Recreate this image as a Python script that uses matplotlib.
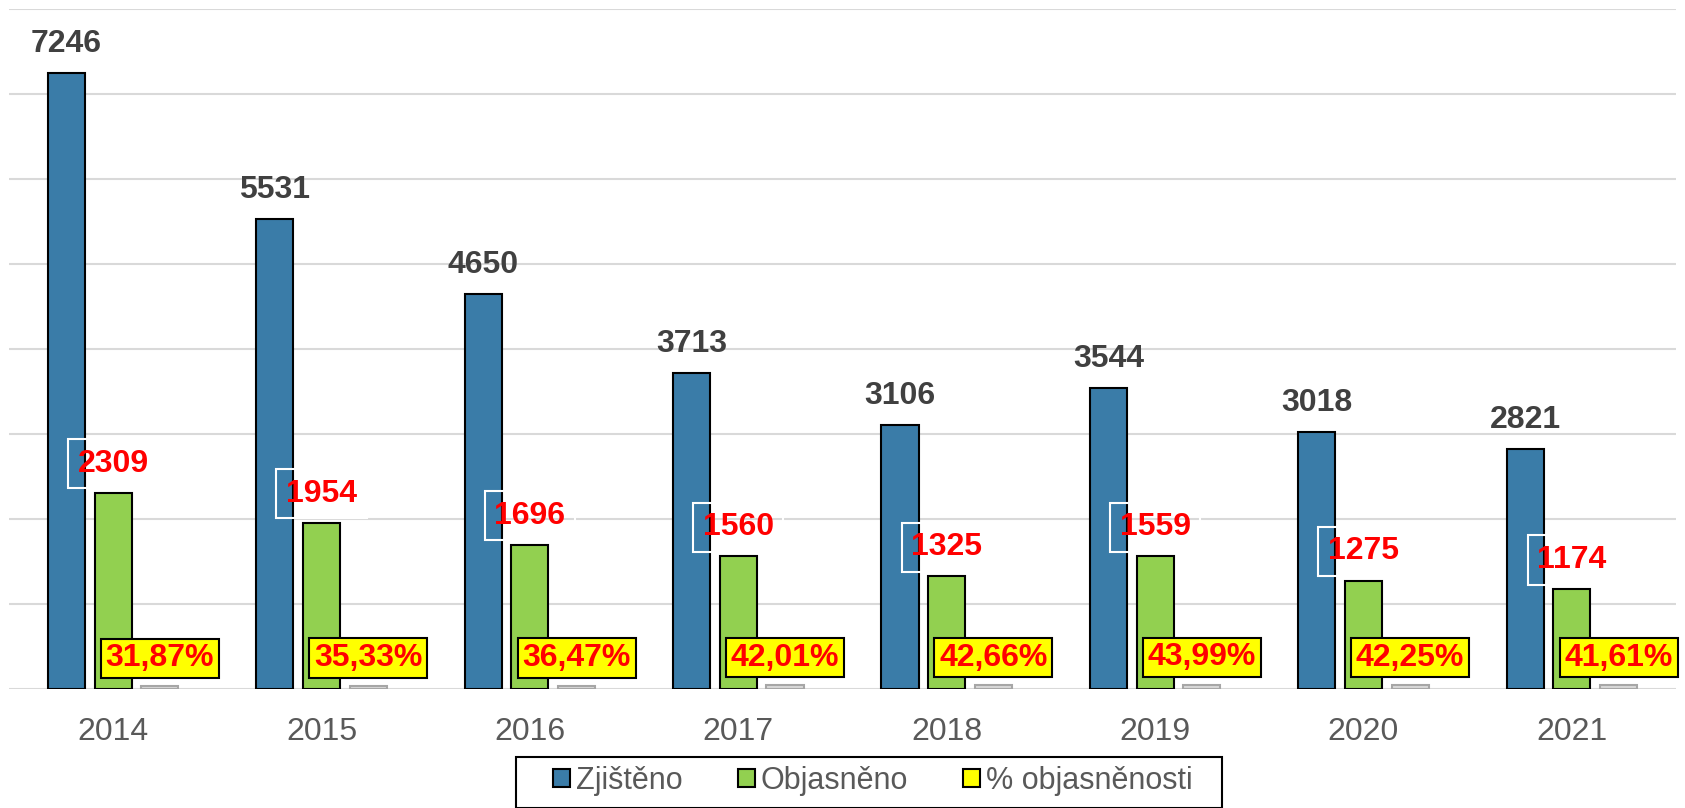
import matplotlib
matplotlib.use('Agg')
import matplotlib.pyplot as plt
import matplotlib.patches as patches
import numpy as np

# data
years = ['2014', '2015', '2016', '2017', '2018', '2019', '2020', '2021']
zjisteno = [7246, 5531, 4650, 3713, 3106, 3544, 3018, 2821]
objasneno = [2309, 1954, 1696, 1560, 1325, 1559, 1275, 1174]
procento = [31.87, 35.33, 36.47, 42.01, 42.66, 43.99, 42.25, 41.61]

plt.rcParams['font.family'] = ['Liberation Sans', 'DejaVu Sans']

W, H = 1685, 808
fig = plt.figure(figsize=(W / 100, H / 100), dpi=100)
ax = fig.add_axes([0.0053, 0.1473, 0.9894, 0.8417])

x = np.arange(len(years))
w = 0.178
off = 0.224

b1 = ax.bar(x - off, zjisteno, w, color='#3a7ca8', edgecolor='black', linewidth=1.5,
            label='Zjištěno', zorder=3)
b2 = ax.bar(x, objasneno, w, color='#92d050', edgecolor='black', linewidth=1.5,
            label='Objasněno', zorder=3)
b3 = ax.bar(x + off, procento, w, color='#d9d9d9', edgecolor='#a6a6a6', linewidth=1.5,
            label='% objasněnosti', zorder=3)

# labels above the blue bars
for xi, v in zip(x, zjisteno):
    ax.annotate(str(v), (xi - off, v), xytext=(0, 21), textcoords='offset points',
                ha='center', va='center', fontsize=23, fontweight='bold', color='#404040')

# red labels above the green bars, white outlined box
for xi, v in zip(x, objasneno):
    ax.annotate(str(v), (xi, v), xytext=(0, 21), textcoords='offset points',
                ha='center', va='center', fontsize=23, fontweight='bold', color='red',
                bbox=dict(boxstyle='square,pad=0.3', facecolor='none', edgecolor='white', linewidth=1.5),
                zorder=5)

# percentage labels in yellow boxes
for xi, p in zip(x, procento):
    txt = f'{p:.2f}'.replace('.', ',') + '%'
    ax.annotate(txt, (xi + off, p), xytext=(0, 20), textcoords='offset points',
                ha='center', va='center', fontsize=23, fontweight='bold', color='red',
                bbox=dict(boxstyle='square,pad=0.15', facecolor='#ffff00', edgecolor='black', linewidth=1.5),
                zorder=6)

ax.set_xlim(-0.5, 7.5)
ax.set_ylim(0, 8000)
ax.set_yticks(np.arange(0, 8001, 1000))
ax.set_yticklabels([])
ax.tick_params(axis='y', length=0)
ax.grid(axis='y', color='#d9d9d9', linewidth=1.5, zorder=0)
ax.set_axisbelow(True)
ax.set_xticks(x)
ax.set_xticklabels(years, fontsize=23, color='#595959')
ax.tick_params(axis='x', length=0, pad=20)
for s in ax.spines.values():
    s.set_visible(False)

# legend box drawn separately so the padding matches
frame = patches.Rectangle((516 / W, 1 - 808 / H), 706 / W, 51 / H, transform=fig.transFigure,
                          facecolor='white', edgecolor='black', linewidth=1.5)
fig.patches.append(frame)
leg = fig.legend(handles=[b1, b2, b3], loc='center', bbox_to_anchor=(873 / W, 1 - 781 / H),
                 ncol=3, frameon=False, prop={'size': 22},
                 handlelength=0.55, handleheight=0.55, handletextpad=0.2, columnspacing=1.8,
                 borderpad=0.0)
for t in leg.get_texts():
    t.set_color('#595959')
leg.legend_handles[2].set_facecolor('#ffff00')
leg.legend_handles[2].set_edgecolor('black')

fig.savefig('out.png', dpi=100)
